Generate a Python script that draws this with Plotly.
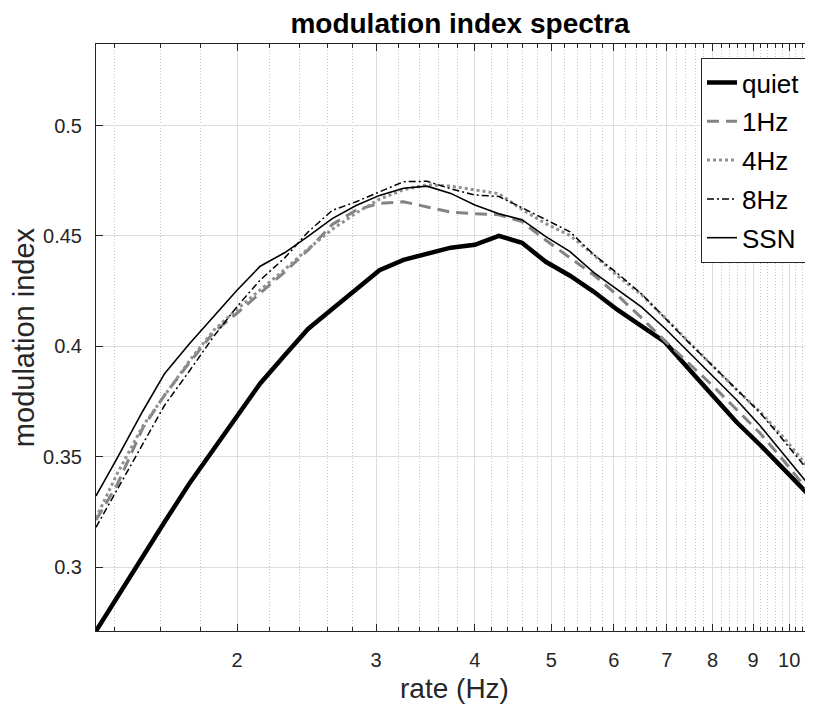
import plotly.graph_objects as go
import numpy as np

# rates (Hz) and modulation index per condition
rate = [1.326, 1.41, 1.52, 1.62, 1.74, 1.87, 2.0, 2.14, 2.3, 2.46, 2.64, 2.83,
        3.03, 3.25, 3.48, 3.73, 4.0, 4.29, 4.59, 4.92, 5.28, 5.66, 6.06, 6.5,
        6.96, 7.46, 8.0, 8.57, 9.19, 9.85, 10.56, 10.72]

quiet = [0.271, 0.2863, 0.3050, 0.3205, 0.3377, 0.3535, 0.3687, 0.3832, 0.3961, 0.4079,
         0.4169, 0.4259, 0.4345, 0.4392, 0.4420, 0.4447, 0.4460, 0.4501, 0.4469, 0.4383,
         0.4320, 0.4247, 0.4166, 0.4093, 0.4020, 0.3898, 0.3776, 0.3658, 0.3553, 0.3444,
         0.3331, 0.3259]

hz1 = [0.3213, 0.3372, 0.3630, 0.3780, 0.3925, 0.4065, 0.4150, 0.4243, 0.4338, 0.4436,
       0.4552, 0.4617, 0.4648, 0.4655, 0.4632, 0.4608, 0.4601, 0.4596, 0.4565, 0.4481,
       0.4401, 0.4323, 0.4232, 0.4130, 0.4025, 0.3924, 0.3822, 0.3715, 0.3606, 0.3480,
       0.3347, 0.3319]

hz4 = [0.3222, 0.3422, 0.3639, 0.3780, 0.3933, 0.4074, 0.4168, 0.4256, 0.4349, 0.4442,
       0.4530, 0.4604, 0.4667, 0.4710, 0.4732, 0.4726, 0.4710, 0.4692, 0.4620, 0.4556,
       0.4502, 0.4414, 0.4320, 0.4235, 0.4130, 0.4020, 0.3912, 0.3805, 0.3703, 0.3585,
       0.3458, 0.3426]

hz8 = [0.3180, 0.3349, 0.3558, 0.3734, 0.3887, 0.4046, 0.4180, 0.4300, 0.4402, 0.4518,
       0.4616, 0.4655, 0.4700, 0.4746, 0.4748, 0.4714, 0.4686, 0.4679, 0.4628, 0.4574,
       0.4519, 0.4415, 0.4331, 0.4238, 0.4129, 0.4018, 0.3912, 0.3805, 0.3699, 0.3571,
       0.3437, 0.3410]

ssn = [0.3322, 0.3492, 0.3707, 0.3877, 0.4011, 0.4138, 0.4254, 0.4363, 0.4425, 0.4498,
       0.4579, 0.4638, 0.4684, 0.4716, 0.4726, 0.4693, 0.4640, 0.4601, 0.4574, 0.4497,
       0.4429, 0.4334, 0.4259, 0.4179, 0.4082, 0.3974, 0.3867, 0.3759, 0.3640, 0.3511,
       0.3377, 0.3349]

major_x = [2, 3, 4, 5, 6, 7, 8, 9, 10]
minor_x = [1.4, 1.6, 1.8, 2.2, 2.4, 2.6, 2.8, 3.2, 3.4, 3.6, 3.8, 4.2, 4.4, 4.6, 4.8,
           5.2, 5.4, 5.6, 5.8, 6.2, 6.4, 6.6, 6.8, 7.2, 7.4, 7.6, 7.8, 8.2, 8.4, 8.6,
           8.8, 9.2, 9.4, 9.6, 9.8, 10.2, 10.4, 10.6]

series = [
    ("quiet", quiet, dict(color="black", width=4.5)),
    ("1Hz", hz1, dict(color="#848484", width=3, dash="12px,7px")),
    ("4Hz", hz4, dict(color="#909090", width=3, dash="3px,3px")),
    ("8Hz", hz8, dict(color="black", width=1.5, dash="7px,3px,2px,3px")),
    ("SSN", ssn, dict(color="black", width=1.6)),
]

fig = go.Figure()
for name, vals, line in series:
    fig.add_trace(go.Scatter(x=rate, y=vals, mode="lines", name=name,
                             legendgroup=name, line=line))

font = "Liberation Sans, Arial, Helvetica, sans-serif"
axcol = "#262626"

# the page body adds an 8px margin, so the figure is 8px smaller than the window
fig.update_layout(
    width=805, height=699,
    margin=dict(l=88, r=0, t=36, b=76),
    paper_bgcolor="white", plot_bgcolor="white",
    font=dict(family=font, size=20, color=axcol),
    title=dict(text="<b>modulation index spectra</b>", x=0.5615, xanchor="center",
               y=1 - 15 / 699, yanchor="middle", font=dict(size=28, color="black")),
    legend=dict(x=0.8438, xanchor="left", y=0.976, yanchor="top",
                bgcolor="white", bordercolor="#262626", borderwidth=1,
                tracegroupgap=2, traceorder="grouped",
                font=dict(size=26, color="black")),
)

fig.update_xaxes(
    type="log", range=[np.log10(1.326), np.log10(10.72)],
    tickmode="array", tickvals=major_x, ticktext=[str(v) for v in major_x],
    ticks="inside", ticklen=7, tickcolor=axcol,
    showline=True, linecolor=axcol, linewidth=1, mirror="ticks",
    showgrid=True, gridcolor="#dedede", gridwidth=1,
    zeroline=False, automargin=False,
    tickfont=dict(size=20), ticklabelstandoff=11,
    title=dict(text="rate (Hz)", font=dict(size=28), standoff=8),
    minor=dict(tickmode="array", tickvals=minor_x, ticks="inside", ticklen=4,
               tickcolor=axcol, showgrid=True, gridcolor="#c4c4c4",
               griddash="1px,2px", gridwidth=1),
)

fig.update_yaxes(
    range=[0.271, 0.537],
    tickmode="array", tickvals=[0.3, 0.35, 0.4, 0.45, 0.5],
    ticktext=["0.3", "0.35", "0.4", "0.45", "0.5"],
    ticks="inside", ticklen=7, tickcolor=axcol,
    showline=True, linecolor=axcol, linewidth=1, mirror=False,
    showgrid=True, gridcolor="#dedede", gridwidth=1,
    zeroline=False, automargin=False,
    tickfont=dict(size=20), ticklabelstandoff=9,
    title=dict(text="modulation index", font=dict(size=29), standoff=4),
)

fig.write_html("out.html")
